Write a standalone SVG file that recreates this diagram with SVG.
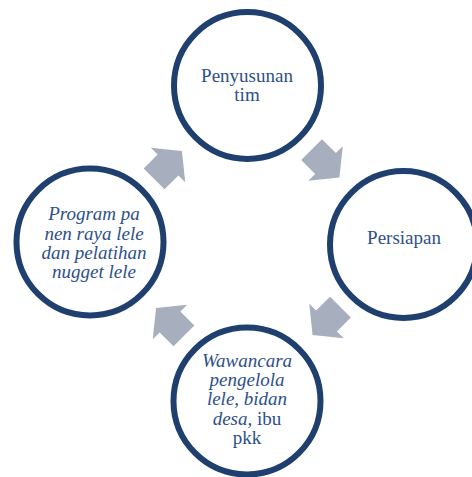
<svg xmlns="http://www.w3.org/2000/svg" width="472" height="477" viewBox="0 0 472 477">
<style>
.node circle{fill:#fff;stroke:#1F3F6F;stroke-width:6}
.lbl{font-family:"Liberation Serif","DejaVu Serif",serif;font-size:19px;fill:#2D5089;text-anchor:middle}
.it{font-style:italic}
.arrow{fill:#A7AEBD}
</style>
<defs>
<polygon id="arr" points="-19.7,-14.7 0,-14.7 0,-24.4 19.7,0 0,24.4 0,14.7 -19.7,14.7"/>
</defs>
<rect width="472" height="477" fill="#fff"/>
<g id="connectors" class="arrow">
<use href="#arr" transform="translate(168,165) rotate(-45)"/>
<use href="#arr" transform="translate(325.5,163.5) rotate(45)"/>
<use href="#arr" transform="translate(326.5,321) rotate(135)"/>
<use href="#arr" transform="translate(170,322) rotate(-135)"/>
</g>
<g id="node-penyusunan" class="node">
<circle cx="247.5" cy="85.5" r="73.5"/>
<text class="lbl" x="247" y="81.5">Penyusunan</text>
<text class="lbl" x="247" y="101">tim</text>
</g>
<g id="node-persiapan" class="node">
<circle cx="403.5" cy="244.5" r="73.5"/>
<text class="lbl" x="404" y="244">Persiapan</text>
</g>
<g id="node-wawancara" class="node">
<circle cx="247" cy="401" r="73.5"/>
<text class="lbl it" x="247" y="367">Wawancara</text>
<text class="lbl it" x="247" y="386">pengelola</text>
<text class="lbl it" x="247" y="405">lele, bidan</text>
<text class="lbl" x="247" y="424.5"><tspan class="it">desa,</tspan> ibu</text>
<text class="lbl" x="247" y="443.5">pkk</text>
</g>
<g id="node-program" class="node">
<circle cx="90" cy="242" r="73.5"/>
<text class="lbl it" x="94" y="220">Program pa</text>
<text class="lbl it" x="94" y="239.5">nen raya lele</text>
<text class="lbl it" x="94" y="259">dan pelatihan</text>
<text class="lbl it" x="94" y="278">nugget lele</text>
</g>
</svg>
